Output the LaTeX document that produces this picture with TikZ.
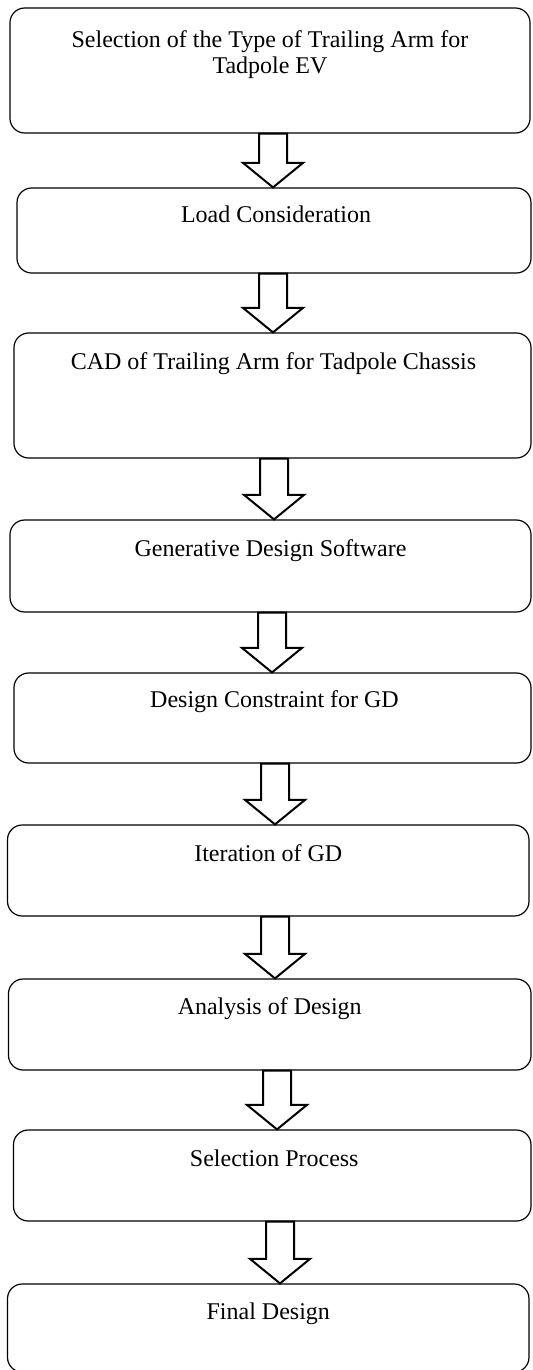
\documentclass[tikz,border=0pt]{standalone}
\usepackage{fontspec}
\setmainfont{Liberation Serif}
\usetikzlibrary{calc}

\tikzset{
  stepbox/.style={draw, line width=0.9pt, rounded corners=11pt, fill=white},
  steptext/.style={font=\fontsize{18}{19.5}\selectfont, inner sep=0pt, align=center},
  blockarrow/.style={draw, line width=1.5pt, fill=white, line join=miter,
    to path={let \p1=(\tikztostart), \p2=(\tikztotarget) in
      (\x2-10.5pt,\y1) -- (\x2+10.5pt,\y1) -- (\x2+10.5pt,\y2+18.4pt)
      -- (\x2+22.5pt,\y2+18.4pt) -- (\x2,\y2) -- (\x2-22.5pt,\y2+18.4pt)
      -- (\x2-10.5pt,\y2+18.4pt) -- cycle}}
}

\begin{document}
\begin{tikzpicture}[x=0.75pt, y=-0.75pt]
  \useasboundingbox (0,0) rectangle (532,1370);
  % boxes
  \node[stepbox, minimum width=390pt, minimum height=93.75pt] (b1) at (270,70.5){};
  \node[stepbox, minimum width=385.5pt, minimum height=63.75pt] (b2) at (274,230.5){};
  \node[stepbox, minimum width=387.75pt, minimum height=93.75pt] (b3) at (272.5,395.5){};
  \node[stepbox, minimum width=390.75pt, minimum height=69pt] (b4) at (270.5,566){};
  \node[stepbox, minimum width=387.75pt, minimum height=67.5pt] (b5) at (272.5,718){};
  \node[stepbox, minimum width=391.1pt, minimum height=68.25pt] (b6) at (268.25,870.5){};
  \node[stepbox, minimum width=391.9pt, minimum height=68.25pt] (b7) at (269.75,1024.5){};
  \node[stepbox, minimum width=388.1pt, minimum height=68.25pt] (b8) at (272.25,1175.5){};
  \node[stepbox, minimum width=391.1pt, minimum height=66pt] (b9) at (268.25,1328){};
  % labels
  \node[steptext, anchor=base] (t1) at ($(b1.north)+(0,66)$) {Selection of the Type of Trailing Arm for\\Tadpole EV};
  \node[steptext, anchor=base] (t2) at ($(b2.north)+(2,35)$) {Load Consideration};
  \node[steptext, anchor=base] (t3) at ($(b3.north)+(1,37)$) {CAD of Trailing Arm for Tadpole Chassis};
  \node[steptext, anchor=base] (t4) at ($(b4.north)+(0,37)$) {Generative Design Software};
  \node[steptext, anchor=base] (t5) at ($(b5.north)+(2,35)$) {Design Constraint for GD};
  \node[steptext, anchor=base] (t6) at ($(b6.north)+(0,37)$) {Iteration of GD};
  \node[steptext, anchor=base] (t7) at ($(b7.north)+(0,36)$) {Analysis of Design};
  \node[steptext, anchor=base] (t8) at ($(b8.north)+(2,37)$) {Selection Process};
  \node[steptext, anchor=base] (t9) at ($(b9.north)+(0,36)$) {Final Design};
  % arrows
  \draw[blockarrow] (b1.south -| 273,0) to (b2.north -| 273,0);
  \draw[blockarrow] (b2.south -| 273,0) to (b3.north -| 273,0);
  \draw[blockarrow] (b3.south -| 274,0) to (b4.north -| 274,0);
  \draw[blockarrow] (b4.south -| 272,0) to (b5.north -| 272,0);
  \draw[blockarrow] (b5.south -| 275,0) to (b6.north -| 275,0);
  \draw[blockarrow] (b6.south -| 275,0) to (b7.north -| 275,0);
  \draw[blockarrow] (b7.south -| 277,0) to (b8.north -| 277,0);
  \draw[blockarrow] (b8.south -| 280,0) to (b9.north -| 280,0);
\end{tikzpicture}
\end{document}
